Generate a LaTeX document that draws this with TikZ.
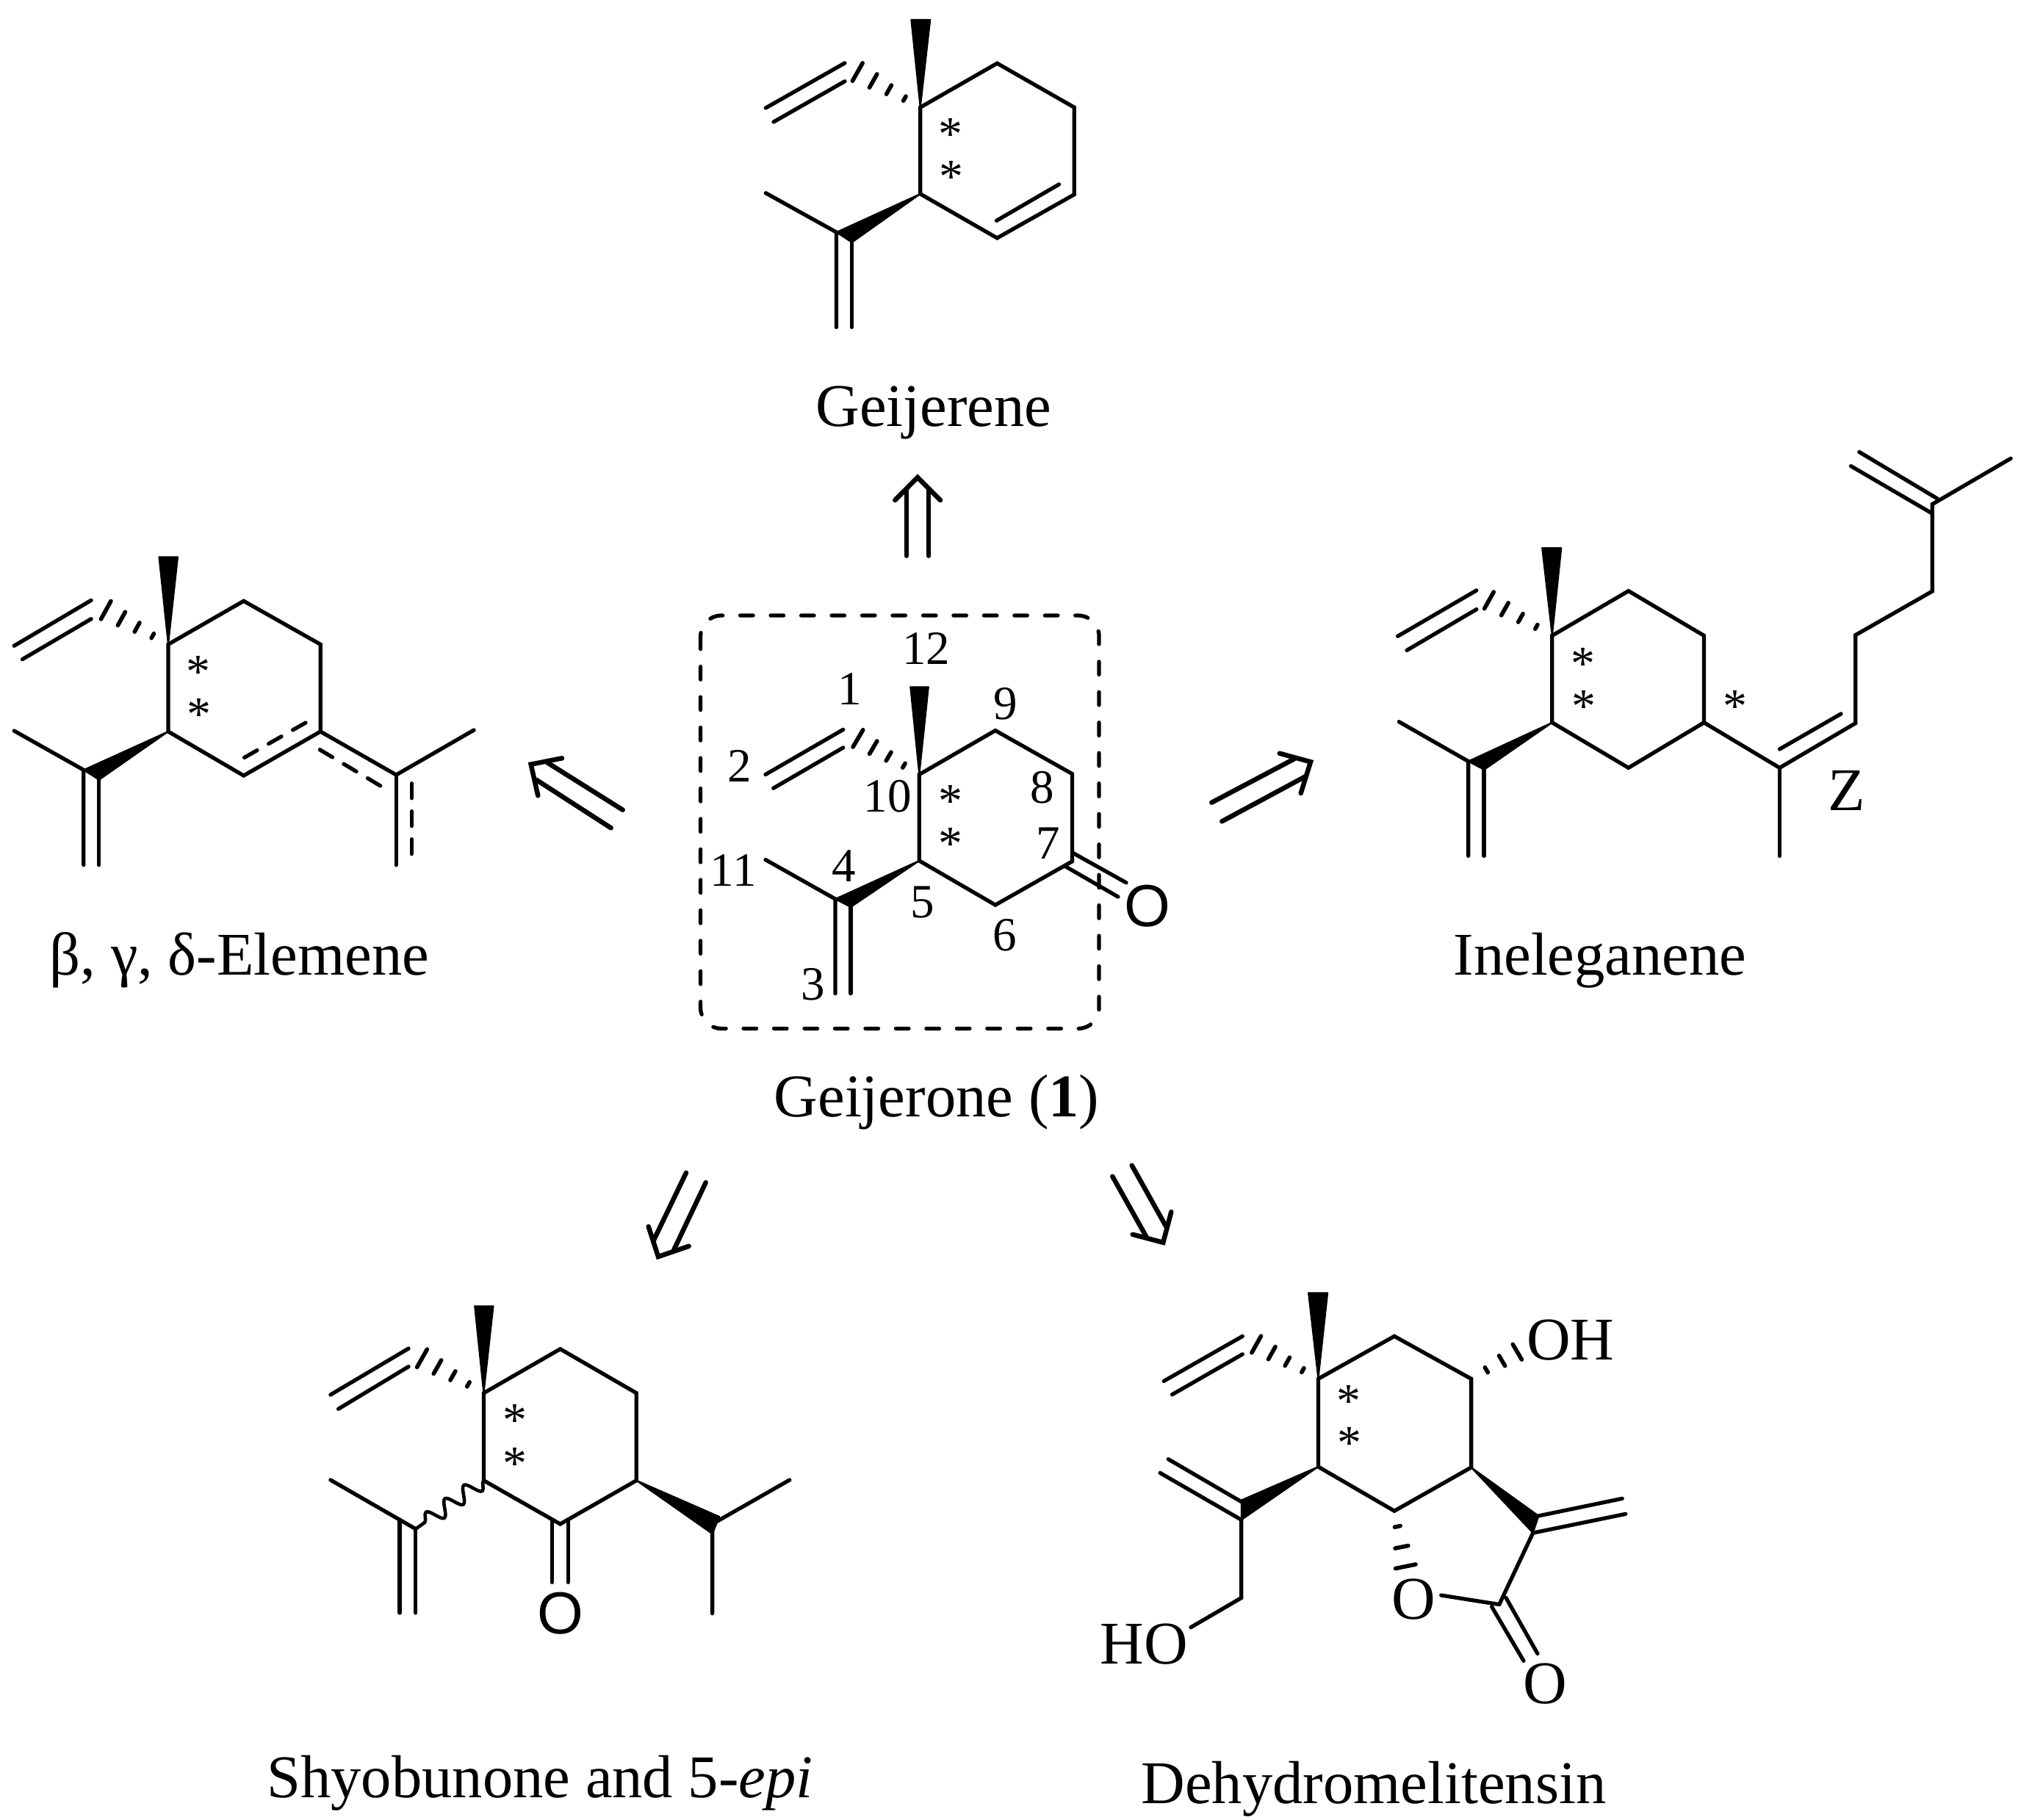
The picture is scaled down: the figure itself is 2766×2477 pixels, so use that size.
\documentclass[tikz,border=0pt]{standalone}
\usepackage{fontspec}
\setmainfont{Liberation Serif}
\newfontfamily\oxyfont{Liberation Sans}
\usetikzlibrary{calc,decorations.pathmorphing}
\tikzset{
  bond/.style={line width=1.5pt, line cap=round},
  hash/.style={line width=1.6pt, line cap=round},
  wedgefill/.style={fill=black, draw=black, line width=.6pt, line join=round},
  wavy/.style={line width=1.3pt, decorate, decoration={snake, amplitude=3pt, segment length=9pt}},
  dashbond/.style={bond, dash pattern=on 5.7pt off 5.1pt},
  framebox/.style={bond, rounded corners=8pt, dash pattern=on 5pt off 6.8pt},
  retro/.style={line width=1.85pt, line cap=round},
  numlabel/.style={font=\fontsize{18.5}{20}\selectfont, inner sep=0pt},
  star/.style={font=\fontsize{18.7}{20}\selectfont, inner sep=0pt, anchor=base, yshift=-8.8pt},
  atom/.style={font=\fontsize{23.5}{26}\selectfont, inner sep=0pt},
  oxygen/.style={font=\oxyfont\fontsize{23}{26}\selectfont, inner sep=0pt},
  caption/.style={font=\fontsize{23.5}{26}\selectfont, inner sep=0pt, anchor=base},
}
% dashes across a bond, growing from #1 towards #2
\newcommand{\hashbond}[4]{
  \foreach \pos in {#4}{
    \pgfmathsetmacro\hw{.2845*#3*\pos}
    \draw[hash] ($(#1)!\pos!(#2)!\hw pt!90:(#1)$) -- ($(#1)!\pos!(#2)!\hw pt!-90:(#1)$);
  }}
% tip, two head ends, then the two shafts
\newcommand{\retroarrow}[7]{
  \coordinate (tip) at #1;
  \coordinate (headA) at #2;
  \coordinate (headB) at #3;
  \coordinate (shaftA) at #4;
  \coordinate (baseA) at #5;
  \coordinate (shaftB) at #6;
  \coordinate (baseB) at #7;
  \draw[retro] (headA) -- (tip) -- (headB);
  \draw[retro] (shaftA) -- (baseA);
  \draw[retro] (shaftB) -- (baseB);
}
\begin{document}
\begin{tikzpicture}[x=0.1mm, y=-0.1mm]
    \useasboundingbox (0,0) rectangle (2766,2477);

    % Geijerone
    \coordinate (c10) at (1251.3,1054.5);
    \coordinate (c9) at (1354.9,994.6);
    \coordinate (c8) at (1459.4,1053.6);
    \coordinate (c7) at (1459.4,1172.8);
    \coordinate (c6) at (1354.9,1232.1);
    \coordinate (c5) at (1251.3,1171.9);
    \coordinate (c4) at (1137,1224);
    \coordinate (c4w) at (1158,1235);
    \coordinate (c11) at (1042,1170.5);
    \coordinate (c3) at (1137,1352.7);
    \coordinate (c3w) at (1158,1352.7);
    \draw[framebox] (953.6,838) rectangle (1496,1400.4);
    \draw[bond] (c10) -- (c9) -- (c8) -- (c7) -- (c6) -- (c5) -- cycle;
    \draw[bond] (c11) -- (c4) -- (c3);
    \draw[bond] (c4w) -- (c3w);
    \path[wedgefill] (c5) -- (c4) -- (c4w) -- cycle;
    \path[wedgefill] (c10) -- (1239.3,935.3) -- (1263.8,935.3) -- cycle;
    \draw[bond] (1147.8,993.3) -- (1042,1054.5);
    \draw[bond] (1147.8,1017.9) -- (1052.7,1073.2);
    \coordinate (c1) at (1167.9,1005.4);
    \hashbond{c10}{c1}{13.5}{.25,.5,.75,1}
    \draw[bond] (1459.4,1160.7) -- (1533,1201.8);
    \draw[bond] (1450,1179.5) -- (1521.9,1221);
    \node[oxygen] (oa) at (1561.6,1234) {O};
    \node[star] (sa1) at (1293.8,1081.3) {*};
    \node[star] (sa2) at (1293.8,1139.3) {*};
    \node[numlabel] (n12) at (1260.7,882.6) {12};
    \node[numlabel] (n1) at (1156.7,938.4) {1};
    \node[numlabel] (n9) at (1368.8,958.5) {9};
    \node[numlabel] (n2) at (1006.3,1043.3) {2};
    \node[numlabel] (n10) at (1208,1084.4) {10};
    \node[numlabel] (n8) at (1418.8,1072.3) {8};
    \node[numlabel] (n7) at (1426.8,1148.2) {7};
    \node[numlabel] (n11) at (998.2,1184.8) {11};
    \node[numlabel] (n4) at (1149,1179.5) {4};
    \node[numlabel] (n5) at (1256,1228.6) {5};
    \node[numlabel] (n6) at (1367.9,1273.2) {6};
    \node[numlabel] (n3) at (1106.3,1340.2) {3};
    \node[caption] (geijerone) at (1275,1520) {Geijerone (\textbf{1})};

    % Geijerene
    \coordinate (g10) at (1252.7,146.2);
    \coordinate (g9) at (1357.3,86.2);
    \coordinate (g8) at (1462.3,146.2);
    \coordinate (g7) at (1462.3,264.8);
    \coordinate (g6) at (1357.3,324.1);
    \coordinate (g5) at (1252.7,264);
    \coordinate (g4) at (1138.5,316.2);
    \coordinate (g4w) at (1159.6,330);
    \coordinate (g11) at (1042.3,262.8);
    \coordinate (g3) at (1138.5,445.5);
    \coordinate (g3w) at (1159.6,445.5);
    \draw[bond] (g10) -- (g9) -- (g8) -- (g7) -- (g6) -- (g5) -- cycle;
    \draw[bond] (1441.5,251) -- (1356.5,300.4);
    \draw[bond] (g11) -- (g4) -- (g3);
    \draw[bond] (g4w) -- (g3w);
    \path[wedgefill] (g5) -- (g4) -- (g4w) -- cycle;
    \path[wedgefill] (g10) -- (1240.4,26.9) -- (1266.2,26.9) -- cycle;
    \draw[bond] (1150,85.8) -- (1042.3,147);
    \draw[bond] (1150,110.7) -- (1053,166);
    \coordinate (g1) at (1167.3,98);
    \hashbond{g10}{g1}{14}{.25,.5,.75,1}
    \node[star] (sg1) at (1294.2,173.9) {*};
    \node[star] (sg2) at (1295.4,231.2) {*};
    \node[caption] (geijerene) at (1271,580) {Geijerene};

    % Elemene
    \coordinate (e10) at (229,877.3);
    \coordinate (e9) at (331.7,818.3);
    \coordinate (e8) at (436.2,877.3);
    \coordinate (e7) at (436.2,996);
    \coordinate (e6) at (331.7,1056);
    \coordinate (e5) at (229,996);
    \coordinate (e4) at (113.8,1048.3);
    \coordinate (e4w) at (134.8,1061.7);
    \coordinate (e11) at (19.2,995);
    \coordinate (e3) at (113.8,1177.7);
    \coordinate (e3w) at (134.8,1177.7);
    \coordinate (e12) at (539.3,1055);
    \coordinate (e13) at (645.1,994);
    \coordinate (e14) at (539.3,1177.7);
    \draw[bond] (e10) -- (e9) -- (e8) -- (e7) -- (e6) -- (e5) -- cycle;
    \draw[dashbond] (416,984) -- (330.4,1032.7);
    \draw[bond] (e11) -- (e4) -- (e3);
    \draw[bond] (e4w) -- (e3w);
    \draw[bond] (e7) -- (e12) -- (e13);
    \draw[bond] (e12) -- (e14);
    \draw[dashbond] (435.3,1020.7) -- (517.9,1070);
    \draw[dashbond] (560.3,1066.7) -- (560.3,1177.7);
    \path[wedgefill] (e5) -- (e4) -- (e4w) -- cycle;
    \path[wedgefill] (e10) -- (216.5,758.3) -- (242,758.3) -- cycle;
    \draw[bond] (124.1,817.3) -- (19.2,879.3);
    \draw[bond] (124.1,842.7) -- (30.4,897.7);
    \coordinate (e1) at (144.2,830.7);
    \hashbond{e10}{e1}{14}{.25,.5,.75,1}
    \node[star] (se1) at (269.6,905.7) {*};
    \node[star] (se2) at (270.5,964) {*};
    \node[caption] (elemene) at (326,1327) {β, γ, δ-Elemene};

    % Ineleganene
    \coordinate (i10) at (2112.8,865.4);
    \coordinate (i9) at (2216.7,804.6);
    \coordinate (i8) at (2319.5,865.4);
    \coordinate (i7) at (2319.5,983.8);
    \coordinate (i6) at (2216.7,1045.4);
    \coordinate (i5) at (2112.8,983.8);
    \coordinate (i4) at (1998.6,1036.5);
    \coordinate (i4w) at (2020.1,1048);
    \coordinate (i11) at (1904.3,982.7);
    \coordinate (i3) at (1998.6,1165.4);
    \coordinate (i3w) at (2020.1,1165.4);
    \coordinate (i12) at (2422.4,1045.4);
    \coordinate (i13) at (2422.4,1165.4);
    \coordinate (i14) at (2525.8,984.6);
    \coordinate (i15) at (2525.8,864.6);
    \coordinate (i16) at (2630.3,805);
    \coordinate (i17) at (2630.3,686.5);
    \coordinate (i18) at (2737.1,624.2);
    \draw[bond] (i10) -- (i9) -- (i8) -- (i7) -- (i6) -- (i5) -- cycle;
    \draw[bond] (i11) -- (i4) -- (i3);
    \draw[bond] (i4w) -- (i3w);
    \draw[bond] (i7) -- (i12) -- (i14) -- (i15) -- (i16) -- (i17) -- (i18);
    \draw[bond] (i12) -- (i13);
    \draw[bond] (2506,971.9) -- (2422.4,1020);
    \draw[bond] (2637,678.8) -- (2530.8,615.4);
    \draw[bond] (2630.3,699.2) -- (2519.5,634.6);
    \path[wedgefill] (i5) -- (i4) -- (i4w) -- cycle;
    \path[wedgefill] (i10) -- (2099.2,746.2) -- (2125.2,746.2) -- cycle;
    \draw[bond] (2009.9,803.8) -- (1902.6,866.2);
    \draw[bond] (2009.9,829.6) -- (1915,885.4);
    \coordinate (i1) at (2026.9,817.3);
    \hashbond{i10}{i1}{13}{.25,.5,.75,1}
    \node[star] (si1) at (2154.6,894.2) {*};
    \node[star] (si2) at (2155.7,952.7) {*};
    \node[star] (si3) at (2361.9,952.7) {*};
    \node[atom] (zlabel) at (2513.9,1076) {Z};
    \node[caption] (ineleganene) at (2178,1327) {Ineleganene};

    % Shyobunone
    \coordinate (s10) at (658.4,1896.7);
    \coordinate (s9) at (762.6,1836.7);
    \coordinate (s8) at (866.3,1896.7);
    \coordinate (s7) at (866.3,2015.7);
    \coordinate (s6) at (762.6,2075);
    \coordinate (s5) at (658.4,2015.7);
    \coordinate (s4) at (544,2069.3);
    \coordinate (s4w) at (565.8,2081.7);
    \coordinate (s11) at (449.9,2015);
    \coordinate (s3) at (544,2196);
    \coordinate (s3w) at (565.8,2196);
    \coordinate (s12) at (969.6,2075);
    \coordinate (s13) at (1074.8,2015);
    \coordinate (s14) at (969.6,2196.7);
    \draw[bond] (s10) -- (s9) -- (s8) -- (s7) -- (s6) -- (s5) -- cycle;
    \draw[bond] (s11) -- (s4w);
    \draw[bond] (s4) -- (s3);
    \draw[bond] (s4w) -- (s3w);
    \draw[wavy] (s5) -- (s4w);
    \draw[bond] (s13) -- (s12) -- (s14);
    \path[wedgefill] (s7) -- (979.3,2065) -- (969.6,2088.3) -- cycle;
    \path[wedgefill] (s10) -- (646.2,1778.3) -- (671.5,1778.3) -- cycle;
    \draw[bond] (556.1,1836) -- (449.9,1899);
    \draw[bond] (556.1,1860.7) -- (460.6,1918.3);
    \coordinate (s1) at (574.5,1849.3);
    \hashbond{s10}{s1}{14}{.25,.5,.75,1}
    \draw[bond] (751.4,2071.7) -- (751.4,2154.3);
    \draw[bond] (773.2,2071.7) -- (773.2,2154.3);
    \node[oxygen] (os) at (762.6,2196.7) {O};
    \node[star] (ss1) at (700.5,1925) {*};
    \node[star] (ss2) at (700.5,1983.3) {*};
    \node[caption] (shyobunone) at (735,2447) {Shyobunone and 5-\textit{epi}};

    % Dehydromelitensin
    \coordinate (d10) at (1794.4,1877.3);
    \coordinate (d9) at (1898,1819.3);
    \coordinate (d8) at (2002.6,1877.3);
    \coordinate (d7) at (2002.6,1997.9);
    \coordinate (d6) at (1898,2057.2);
    \coordinate (d5) at (1794.4,1997);
    \coordinate (d4) at (1689.8,2069.3);
    \coordinate (d4w) at (1689.8,2042.5);
    \coordinate (d3) at (1689.8,2175.5);
    \coordinate (d2) at (1620.9,2215.7);
    \coordinate (d12) at (2086.7,2087.1);
    \coordinate (d12w) at (2094.4,2063.9);
    \coordinate (d13) at (2040.8,2184.5);
    \draw[bond] (d10) -- (d9) -- (d8) -- (d7) -- (d6) -- (d5) -- cycle;
    \draw[bond] (d4) -- (d3) -- (d2);
    \draw[bond] (1689.8,2044.7) -- (1590.3,1986.7);
    \draw[bond] (d4) -- (1579.1,2005.4);
    \path[wedgefill] (d5) -- (d4w) -- (d4) -- cycle;
    \path[wedgefill] (d7) -- (d12w) -- (d12) -- cycle;
    \path[wedgefill] (d10) -- (1781.1,1760.4) -- (1807.1,1760.4) -- cycle;
    \draw[bond] (1691.3,1819.3) -- (1584.2,1880.4);
    \draw[bond] (1691.3,1843.8) -- (1595.4,1898.8);
    \coordinate (d1) at (1710.2,1830.4);
    \hashbond{d10}{d1}{13}{.25,.5,.75,1}
    \draw[bond] (d12w) -- (2208.2,2040.3);
    \draw[bond] (d12) -- (2212.8,2061.3);
    \draw[bond] (d12) -- (d13);
    \node[atom] (ol) at (1924.5,2177.3) {O};
    \draw[bond] (1961.7,2172) -- (d13);
    \draw[bond] (2030.6,2187.6) -- (2074,2261.3);
    \draw[bond] (2050,2175.5) -- (2092.9,2251.4);
    \node[atom] (oc) at (2103,2292.5) {O};
    \node[atom] (oh) at (2137.7,1825) {OH};
    \node[atom] (ho) at (1557.5,2238.5) {HO};
    \coordinate (dh) at (2065.3,1840.7);
    \hashbond{d8}{dh}{12}{.33,.67,1}
    \coordinate (dl) at (1913.3,2132.7);
    \hashbond{d6}{dl}{14}{.28,.65,1}
    \node[star] (sd1) at (1835.7,1898.3) {*};
    \node[star] (sd2) at (1836.7,1955.4) {*};
    \node[caption] (dehydro) at (1870,2455) {Dehydromelitensin};

    % arrows
    \retroarrow{(1249,650)}{(1218.3,681)}{(1280,681)}{(1234,666.7)}{(1234,756.7)}{(1264,666.7)}{(1264,756.7)}
    \retroarrow{(722.7,1040.7)}{(765,1032.3)}{(732.3,1083.3)}{(745,1038.3)}{(847.7,1102.7)}{(730,1061.7)}{(831.7,1127.3)}
    \retroarrow{(1784,1037.3)}{(1741.7,1025.7)}{(1770.7,1080)}{(1761.7,1033.3)}{(1649.3,1092.7)}{(1776.7,1057.3)}{(1663.3,1118.3)}
    \retroarrow{(896,1711)}{(882.7,1670)}{(937.7,1696.7)}{(934,1596.7)}{(890,1688.3)}{(960.7,1610)}{(917.3,1701.7)}
    \retroarrow{(1583.3,1691.7)}{(1541.7,1680.7)}{(1594.3,1650)}{(1540.7,1586.7)}{(1587.3,1670)}{(1514.3,1601.7)}{(1561,1685)}
\end{tikzpicture}
\end{document}
